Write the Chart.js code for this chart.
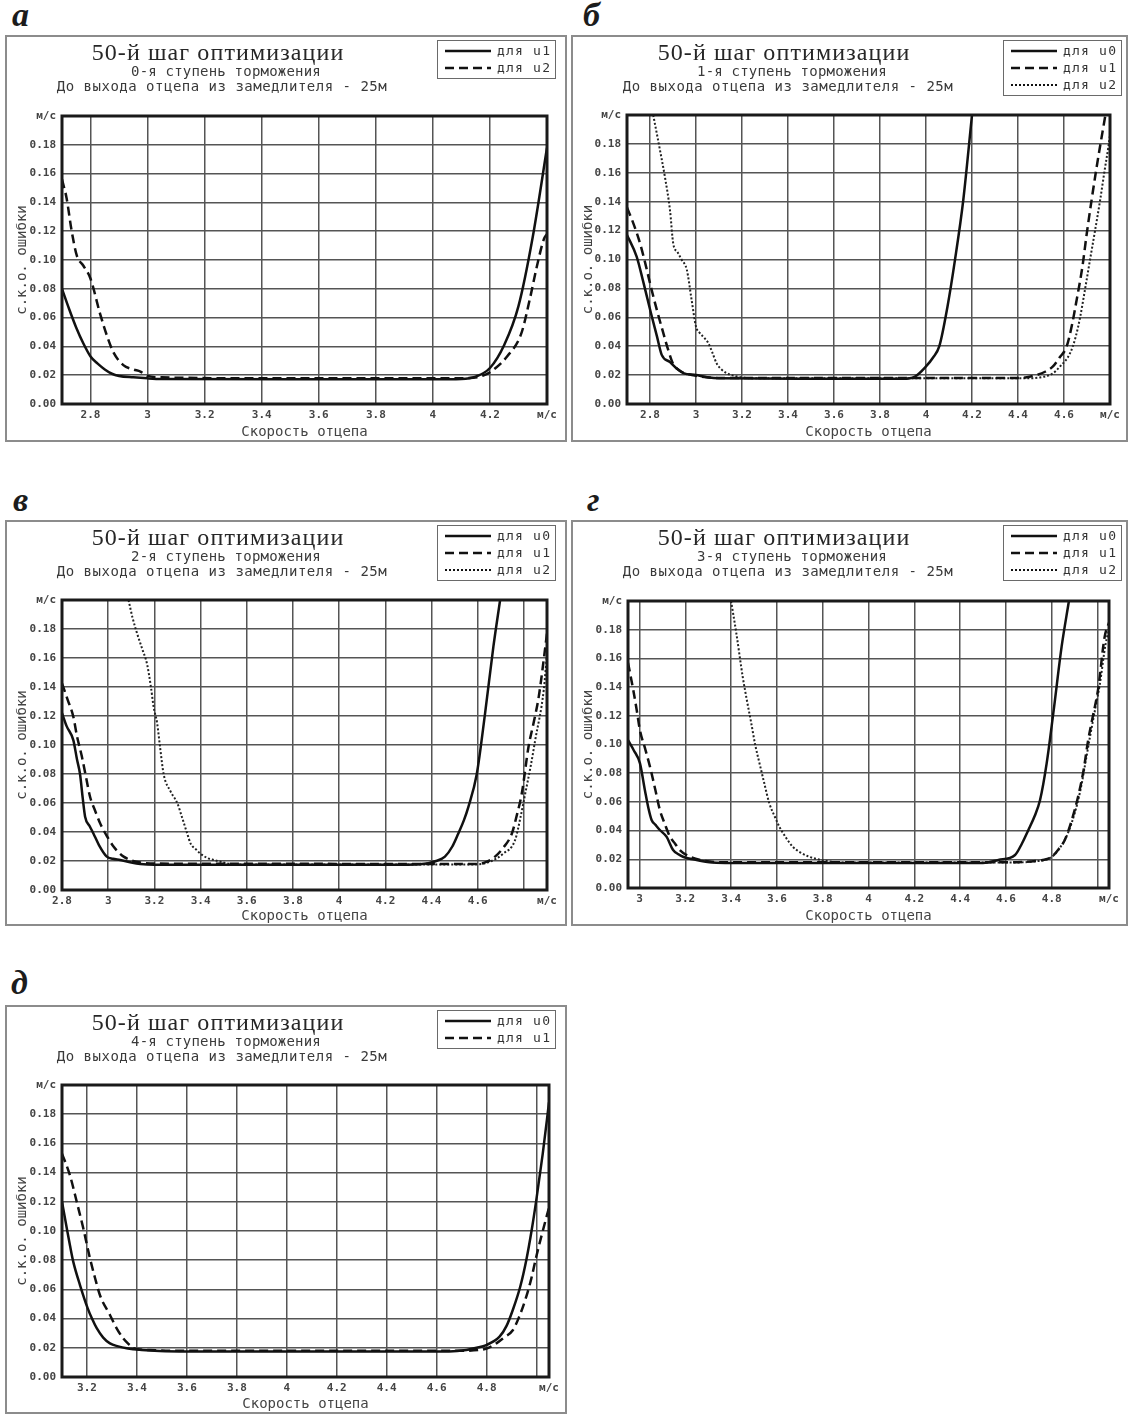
<!DOCTYPE html>
<html>
<head>
<meta charset="utf-8">
<script src="https://cdn.jsdelivr.net/npm/chart.js@4.4.1/dist/chart.umd.min.js"></script>
<style>
  body { margin: 0; background: #fff; width: 1129px; height: 1414px; position: relative; overflow: hidden; }
  .letter { position: absolute; font: italic bold 34px "Liberation Serif"; line-height: 34px; color: #1c1c1c; }
  .panel { position: absolute; }
  .panel canvas { position: absolute; left: 0; top: 0; }
  .frame { position: absolute; left: 0; top: 0; right: 0; bottom: 0; border: 2px solid #8c8c8c; box-sizing: border-box; pointer-events: none; }
  .t1, .t2, .t3 { position: absolute; white-space: nowrap; transform: translateX(-50%); color: #262626; }
  .t1 { left: 213px; top: 5px; font: 24px "Liberation Serif"; line-height: 24px; letter-spacing: 1.1px; }
  .t2 { left: 221px; top: 30px; font: 14px "DejaVu Sans Mono"; line-height: 12px; letter-spacing: 0.2px; color: #3a3a3a; }
  .t3 { left: 217px; top: 45px; font: 14px "DejaVu Sans Mono"; line-height: 12px; letter-spacing: 0.5px; color: #3a3a3a; }
  .leg { position: absolute; left: 432px; top: 5px; width: 119px; border: 1.5px solid #6a6a6a; box-sizing: border-box; padding: 1px 0 2px 0; }
  .leg .row { height: 17px; display: flex; align-items: center; }
  .leg svg { margin-left: 7px; margin-right: 6px; }
  .leg span { font: 13px "DejaVu Sans Mono"; letter-spacing: 1.2px; color: #333; }
</style>
</head>
<body>

<div class="letter" style="left:12px;top:-2px">а</div>
<div class="letter" style="left:583px;top:-2px">б</div>
<div class="letter" style="left:13px;top:483px">в</div>
<div class="letter" style="left:587px;top:483px">г</div>
<div class="letter" style="left:11px;top:966px">д</div>

<div class="panel" id="panel-a"><canvas></canvas><div class="frame"></div>
  <div class="t1">50-й шаг оптимизации</div><div class="t2">0-я ступень торможения</div>
  <div class="t3">До выхода отцепа из замедлителя - 25м</div><div class="leg"></div></div>
<div class="panel" id="panel-b"><canvas></canvas><div class="frame"></div>
  <div class="t1">50-й шаг оптимизации</div><div class="t2">1-я ступень торможения</div>
  <div class="t3">До выхода отцепа из замедлителя - 25м</div><div class="leg"></div></div>
<div class="panel" id="panel-c"><canvas></canvas><div class="frame"></div>
  <div class="t1">50-й шаг оптимизации</div><div class="t2">2-я ступень торможения</div>
  <div class="t3">До выхода отцепа из замедлителя - 25м</div><div class="leg"></div></div>
<div class="panel" id="panel-d"><canvas></canvas><div class="frame"></div>
  <div class="t1">50-й шаг оптимизации</div><div class="t2">3-я ступень торможения</div>
  <div class="t3">До выхода отцепа из замедлителя - 25м</div><div class="leg"></div></div>
<div class="panel" id="panel-e"><canvas></canvas><div class="frame"></div>
  <div class="t1">50-й шаг оптимизации</div><div class="t2">4-я ступень торможения</div>
  <div class="t3">До выхода отцепа из замедлителя - 25м</div><div class="leg"></div></div>

<script>
// y axis is shared by all five plots
const yTicks = [0, 0.02, 0.04, 0.06, 0.08, 0.1, 0.12, 0.14, 0.16, 0.18, 0.2];
const yTickLabels = ['0.00', '0.02', '0.04', '0.06', '0.08', '0.10', '0.12', '0.14', '0.16', '0.18', 'м/с'];

// x ticks per plot; the last one sits on the right edge and carries the unit
const aTicks = [2.8, 3, 3.2, 3.4, 3.6, 3.8, 4, 4.2, 4.4];
const aTickLabels = ['2.8', '3', '3.2', '3.4', '3.6', '3.8', '4', '4.2', 'м/с'];
const bTicks = [2.8, 3, 3.2, 3.4, 3.6, 3.8, 4, 4.2, 4.4, 4.6, 4.8];
const bTickLabels = ['2.8', '3', '3.2', '3.4', '3.6', '3.8', '4', '4.2', '4.4', '4.6', 'м/с'];
const cTicks = [2.8, 3, 3.2, 3.4, 3.6, 3.8, 4, 4.2, 4.4, 4.6, 4.8, 4.9];
const cTickLabels = ['2.8', '3', '3.2', '3.4', '3.6', '3.8', '4', '4.2', '4.4', '4.6', '', 'м/с'];
const dTicks = [3, 3.2, 3.4, 3.6, 3.8, 4, 4.2, 4.4, 4.6, 4.8, 5, 5.05];
const dTickLabels = ['3', '3.2', '3.4', '3.6', '3.8', '4', '4.2', '4.4', '4.6', '4.8', '', 'м/с'];
const eTicks = [3.2, 3.4, 3.6, 3.8, 4, 4.2, 4.4, 4.6, 4.8, 5, 5.05];
const eTickLabels = ['3.2', '3.4', '3.6', '3.8', '4', '4.2', '4.4', '4.6', '4.8', '', 'м/с'];

// [speed, rms error] pairs
// а) stage 0
const aU1 = [[2.7,0.080],[2.725,0.066],[2.75,0.053],[2.775,0.042],[2.8,0.033],[2.825,0.028],[2.85,0.024],[2.875,0.021],
  [2.9,0.0195],[2.95,0.0185],[3.0,0.0178],[3.05,0.0174],[3.5,0.0172],[4.0,0.0172],[4.1,0.0174],[4.15,0.019],[4.2,0.025],
  [4.25,0.041],[4.3,0.068],[4.35,0.116],[4.4,0.178]];
const aU2 = [[2.7,0.156],[2.716,0.143],[2.734,0.12],[2.752,0.103],[2.775,0.096],[2.8,0.087],[2.833,0.063],[2.86,0.046],
  [2.88,0.036],[2.915,0.027],[2.95,0.024],[2.975,0.0225],[3.0,0.0195],[3.05,0.0185],[3.5,0.0178],[4.0,0.0178],[4.12,0.018],
  [4.18,0.020],[4.22,0.025],[4.26,0.033],[4.31,0.049],[4.34,0.073],[4.365,0.096],[4.39,0.115],[4.4,0.118]];

// б) stage 1
const bU0 = [[2.7,0.117],[2.742,0.102],[2.77,0.085],[2.804,0.063],[2.83,0.047],[2.851,0.034],[2.887,0.029],[2.92,0.024],
  [2.945,0.0214],[3.0,0.020],[3.05,0.0185],[3.1,0.0178],[3.5,0.0175],[3.9,0.0175],[3.952,0.019],[4.0,0.026],[4.03,0.032],
  [4.058,0.040],[4.093,0.067],[4.126,0.0997],[4.162,0.141],[4.2,0.2]];
const bU1 = [[2.7,0.136],[2.73,0.124],[2.757,0.111],[2.78,0.097],[2.804,0.081],[2.83,0.065],[2.858,0.049],[2.88,0.037],
  [2.9,0.028],[2.93,0.023],[2.96,0.021],[3.0,0.0195],[3.1,0.018],[4.4,0.018],[4.48,0.020],[4.52,0.0225],[4.552,0.026],
  [4.58,0.032],[4.612,0.040],[4.635,0.055],[4.655,0.072],[4.68,0.095],[4.699,0.118],[4.742,0.164],[4.78,0.2]];
const bU2 = [[2.814,0.2],[2.843,0.176],[2.865,0.157],[2.887,0.134],[2.901,0.111],[2.92,0.105],[2.938,0.0997],[2.96,0.093],
  [2.981,0.072],[3.0,0.0535],[3.017,0.049],[3.035,0.046],[3.054,0.042],[3.07,0.036],[3.09,0.028],[3.11,0.024],[3.133,0.0214],
  [3.18,0.019],[3.25,0.0178],[4.45,0.0178],[4.5,0.0185],[4.55,0.021],[4.583,0.026],[4.626,0.035],[4.65,0.046],[4.67,0.060],
  [4.69,0.078],[4.713,0.0997],[4.735,0.12],[4.757,0.141],[4.775,0.16],[4.793,0.178],[4.8,0.186]];

// в) stage 2
const cU0 = [[2.8,0.122],[2.82,0.113],[2.849,0.1034],[2.865,0.09],[2.878,0.080],[2.89,0.063],[2.9,0.0506],[2.92,0.044],
  [2.936,0.039],[2.96,0.031],[2.994,0.023],[3.02,0.0215],[3.052,0.0207],[3.1,0.019],[3.139,0.018],[3.2,0.0175],[4.3,0.0175],
  [4.386,0.0184],[4.42,0.020],[4.458,0.023],[4.49,0.030],[4.516,0.039],[4.54,0.048],[4.56,0.0575],[4.596,0.080],[4.632,0.122],
  [4.668,0.168],[4.697,0.2]];
const cU1 = [[2.8,0.1425],[2.825,0.131],[2.849,0.1195],[2.865,0.106],[2.886,0.092],[2.905,0.077],[2.922,0.064],[2.945,0.054],
  [2.965,0.046],[2.995,0.037],[3.023,0.030],[3.045,0.026],[3.067,0.023],[3.1,0.0205],[3.14,0.019],[3.2,0.0182],[4.6,0.018],
  [4.64,0.0195],[4.675,0.023],[4.71,0.029],[4.748,0.039],[4.77,0.052],[4.791,0.0667],[4.82,0.0988],[4.843,0.116],[4.864,0.133],
  [4.893,0.168],[4.9,0.177]];
const cU2 = [[3.088,0.2],[3.105,0.188],[3.125,0.177],[3.148,0.166],[3.168,0.156],[3.185,0.14],[3.197,0.126],[3.212,0.115],
  [3.225,0.098],[3.24,0.080],[3.27,0.068],[3.299,0.060],[3.32,0.05],[3.342,0.039],[3.357,0.032],[3.38,0.028],[3.4,0.025],
  [3.43,0.022],[3.458,0.0207],[3.53,0.018],[3.6,0.0176],[4.55,0.0176],[4.62,0.018],[4.66,0.020],[4.71,0.025],[4.762,0.0345],
  [4.785,0.05],[4.806,0.0667],[4.83,0.086],[4.849,0.1034],[4.886,0.138],[4.9,0.163]];

// г) stage 3
const dU0 = [[2.95,0.103],[2.975,0.096],[3.002,0.087],[3.024,0.068],[3.04,0.055],[3.053,0.0474],[3.07,0.044],[3.089,0.0404],
  [3.118,0.0358],[3.147,0.0265],[3.17,0.0235],[3.19,0.0218],[3.249,0.0195],[3.32,0.0178],[3.4,0.0175],[4.5,0.0175],
  [4.567,0.0195],[4.64,0.023],[4.67,0.031],[4.698,0.0404],[4.725,0.05],[4.749,0.0613],[4.778,0.087],[4.807,0.122],
  [4.843,0.168],[4.875,0.2]];
const dU1 = [[2.95,0.157],[2.973,0.138],[2.988,0.124],[3.002,0.110],[3.025,0.097],[3.046,0.0845],[3.07,0.068],[3.089,0.0544],
  [3.11,0.045],[3.133,0.0358],[3.155,0.031],[3.176,0.0265],[3.22,0.0218],[3.28,0.019],[3.35,0.018],[4.65,0.018],[4.71,0.0185],
  [4.76,0.0195],[4.8,0.0218],[4.83,0.027],[4.857,0.0335],[4.885,0.046],[4.915,0.0636],[4.94,0.083],[4.959,0.103],[4.98,0.12],
  [5.002,0.138],[5.031,0.175],[5.05,0.185]];
const dU2 = [[3.4,0.2],[3.423,0.1775],[3.451,0.147],[3.47,0.13],[3.488,0.115],[3.505,0.10],[3.524,0.087],[3.545,0.073],
  [3.567,0.059],[3.59,0.05],[3.611,0.0427],[3.64,0.035],[3.669,0.0288],[3.7,0.025],[3.741,0.0218],[3.81,0.019],[3.9,0.0178],
  [4.65,0.0178],[4.72,0.0185],[4.78,0.020],[4.81,0.023],[4.84,0.029],[4.87,0.038],[4.9,0.052],[4.925,0.068],[4.95,0.09],
  [4.97,0.108],[4.99,0.125],[5.01,0.142],[5.035,0.17],[5.05,0.18]];

// д) stage 4
const eU0 = [[3.1,0.120],[3.119,0.102],[3.132,0.09],[3.145,0.079],[3.172,0.063],[3.203,0.047],[3.22,0.04],[3.239,0.0334],
  [3.265,0.027],[3.292,0.023],[3.325,0.021],[3.359,0.0197],[3.42,0.0185],[3.49,0.0178],[3.6,0.0175],[4.65,0.0175],
  [4.719,0.0185],[4.76,0.020],[4.799,0.0219],[4.852,0.0276],[4.88,0.035],[4.905,0.0459],[4.935,0.062],[4.959,0.080],
  [4.98,0.10],[4.999,0.121],[5.025,0.153],[5.05,0.188]];
const eU1 = [[3.1,0.153],[3.132,0.138],[3.159,0.120],[3.185,0.102],[3.212,0.0813],[3.232,0.068],[3.252,0.056],[3.292,0.0425],
  [3.32,0.033],[3.345,0.0265],[3.37,0.022],[3.385,0.0197],[3.45,0.0185],[3.55,0.018],[4.7,0.018],[4.77,0.0185],[4.8,0.0195],
  [4.839,0.023],[4.87,0.027],[4.905,0.032],[4.93,0.041],[4.959,0.055],[4.98,0.068],[4.999,0.0824],[5.025,0.10],[5.05,0.116]];

const lineStyles = {
  solid:  { borderColor: '#111', borderWidth: 2.5, borderDash: [] },
  dashed: { borderColor: '#111', borderWidth: 2.5, borderDash: [9, 5] },
  dotted: { borderColor: '#222', borderWidth: 2, borderDash: [2, 2] }
};

// box = panel rectangle on the page, pad/yW/xH place the plot frame inside it
const panels = [
  { id: 'a', range: [2.7, 4.4], ticks: aTicks, labels: aTickLabels,
    series: [['для u1', aU1, 'solid'], ['для u2', aU2, 'dashed']],
    box: { left: 5, top: 35, w: 562, h: 407, padTop: 81, padRight: 20, yW: 57, xH: 38 } },
  { id: 'b', range: [2.7, 4.8], ticks: bTicks, labels: bTickLabels,
    series: [['для u0', bU0, 'solid'], ['для u1', bU1, 'dashed'], ['для u2', bU2, 'dotted']],
    box: { left: 571, top: 35, w: 557, h: 407, padTop: 80, padRight: 18, yW: 56, xH: 38 } },
  { id: 'c', range: [2.8, 4.9], ticks: cTicks, labels: cTickLabels,
    series: [['для u0', cU0, 'solid'], ['для u1', cU1, 'dashed'], ['для u2', cU2, 'dotted']],
    box: { left: 5, top: 520, w: 562, h: 406, padTop: 80, padRight: 20, yW: 57, xH: 36 } },
  { id: 'd', range: [2.95, 5.05], ticks: dTicks, labels: dTickLabels,
    series: [['для u0', dU0, 'solid'], ['для u1', dU1, 'dashed'], ['для u2', dU2, 'dotted']],
    box: { left: 571, top: 520, w: 557, h: 406, padTop: 81, padRight: 19, yW: 57, xH: 38 } },
  { id: 'e', range: [3.1, 5.05], ticks: eTicks, labels: eTickLabels,
    series: [['для u0', eU0, 'solid'], ['для u1', eU1, 'dashed']],
    box: { left: 5, top: 1005, w: 562, h: 409, padTop: 80, padRight: 18, yW: 57, xH: 37 } }
];

const tickFont = { family: 'DejaVu Sans Mono', size: 11, weight: 'bold' };
const axisTitleFont = { family: 'DejaVu Sans Mono', size: 14 };

// heavy frame around the plotting area
const framePlugin = {
  id: 'plotFrame',
  afterDraw(chart) {
    const { ctx, chartArea: a } = chart;
    ctx.save();
    ctx.strokeStyle = '#1a1a1a';
    ctx.lineWidth = 3;
    ctx.strokeRect(a.left, a.top, a.right - a.left, a.bottom - a.top);
    ctx.restore();
  }
};

function buildLegend(el, datasets) {
  datasets.forEach(ds => {
    const row = document.createElement('div');
    row.className = 'row';
    const dash = (ds.borderDash || []).join(' ');
    row.innerHTML = '<svg width="46" height="6"><line x1="0" y1="3" x2="46" y2="3" stroke="#111" stroke-width="' +
      ds.borderWidth + '"' + (dash ? ' stroke-dasharray="' + dash + '"' : '') + '/></svg><span>' + ds.label + '</span>';
    el.appendChild(row);
  });
}

panels.forEach(p => {
  const wrap = document.getElementById('panel-' + p.id);
  wrap.style.left = p.box.left + 'px';
  wrap.style.top = p.box.top + 'px';
  wrap.style.width = p.box.w + 'px';
  wrap.style.height = p.box.h + 'px';
  const canvas = wrap.querySelector('canvas');
  canvas.width = p.box.w;
  canvas.height = p.box.h;

  const chart = new Chart(canvas, {
    type: 'line',
    data: {
      datasets: p.series.map(s => Object.assign({ label: s[0], data: s[1], fill: false }, lineStyles[s[2]]))
    },
    options: {
      responsive: false,
      animation: false,
      layout: { padding: { top: p.box.padTop, right: p.box.padRight, left: 0, bottom: 0 } },
      plugins: { legend: { display: false }, tooltip: { enabled: false } },
      elements: { point: { radius: 0 }, line: { cubicInterpolationMode: 'monotone' } },
      scales: {
        x: {
          type: 'linear', min: p.range[0], max: p.range[1],
          afterBuildTicks: s => { s.ticks = p.ticks.map(v => ({ value: v })); },
          afterFit: s => { s.height = p.box.xH; },
          ticks: { autoSkip: false, maxRotation: 0, padding: 5, font: tickFont, color: '#444',
                   callback: (v, i) => p.labels[i] },
          grid: { color: '#555', lineWidth: 1.5, drawTicks: false },
          border: { display: false },
          title: { display: true, text: 'Скорость отцепа', font: axisTitleFont, color: '#444',
                   padding: { top: 0, bottom: 1 } }
        },
        y: {
          min: 0, max: 0.2,
          afterBuildTicks: s => { s.ticks = yTicks.map(v => ({ value: v })); },
          afterFit: s => { s.width = p.box.yW; },
          ticks: { padding: 6, font: tickFont, color: '#444', callback: (v, i) => yTickLabels[i] },
          grid: { color: '#555', lineWidth: 1.5, drawTicks: false },
          border: { display: false },
          title: { display: true, text: 'с.к.о. ошибки', font: axisTitleFont, color: '#444',
                   padding: { top: 9, bottom: 0 } }
        }
      }
    },
    plugins: [framePlugin]
  });

  buildLegend(wrap.querySelector('.leg'), chart.data.datasets);
});
</script>
</body>
</html>
